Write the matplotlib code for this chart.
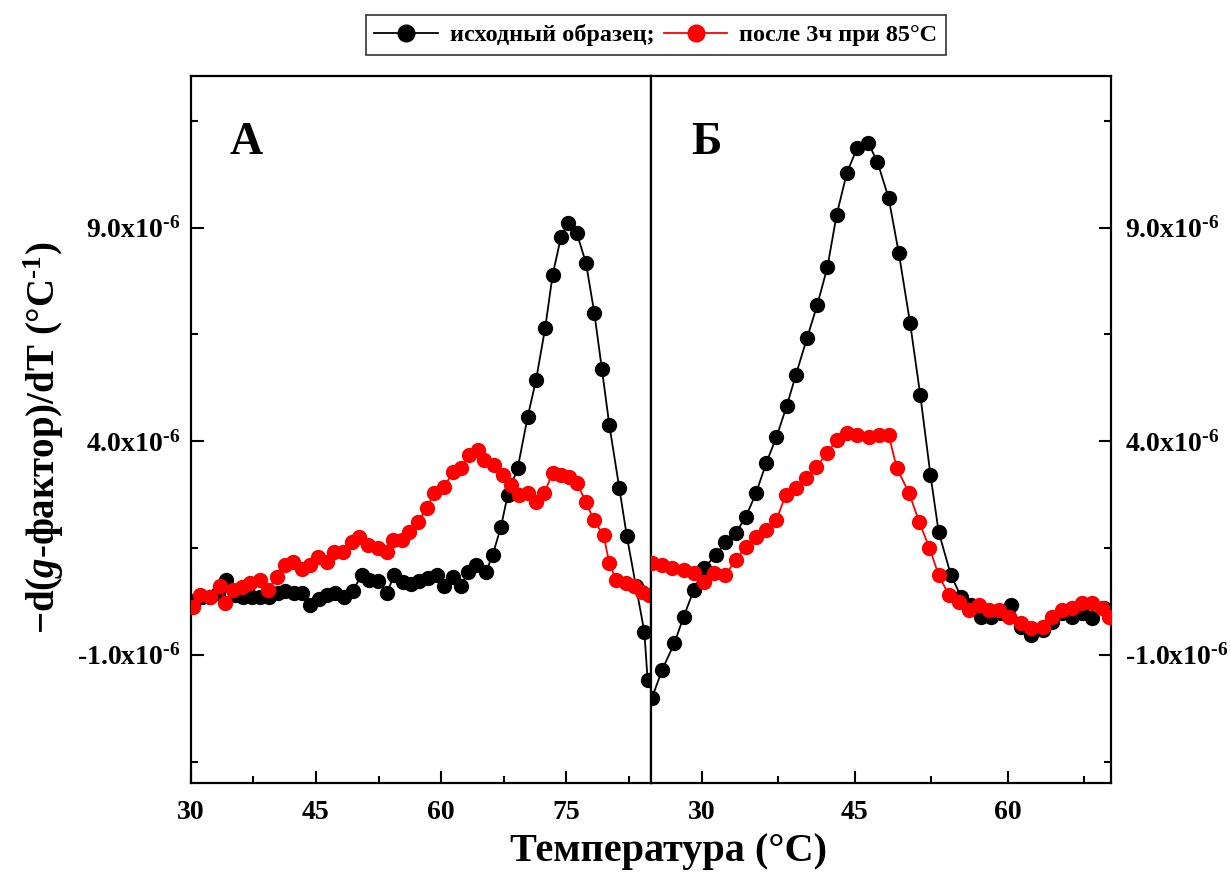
import numpy as np
import matplotlib
matplotlib.use("Agg")
import matplotlib.pyplot as plt
from matplotlib.ticker import MultipleLocator, FixedLocator

plt.rcParams['font.family'] = ['Liberation Serif', 'DejaVu Serif']
plt.rcParams['font.weight'] = 'bold'
plt.rcParams['mathtext.fontset'] = 'custom'
plt.rcParams['mathtext.rm'] = 'Liberation Serif:bold'
plt.rcParams['mathtext.bf'] = 'Liberation Serif:bold'
plt.rcParams['mathtext.it'] = 'Liberation Serif:italic:bold'

# values in units of 1e-6 (°C^-1)
# panel A
xA_black = [30.3, 31.3, 32.3, 33.3, 34.2, 35.3, 36.3, 37.3, 38.3, 39.3,
            40.4, 41.3, 42.3, 43.3, 44.3, 45.3, 46.3, 47.3, 48.3, 49.4,
            50.5, 51.4, 52.4, 53.5, 54.4, 55.4, 56.4, 57.4, 58.4, 59.5,
            60.4, 61.4, 62.4, 63.2, 64.2, 65.4, 66.2, 67.2, 68.0, 69.2,
            70.4, 71.4, 72.5, 73.4, 74.4, 75.2, 76.3, 77.4, 78.4, 79.3,
            80.2, 81.4, 82.3, 83.4, 84.4, 84.8]
yA_black = [0.25, 0.35, 0.35, 0.45, 0.75, 0.40, 0.35, 0.35, 0.36, 0.36,
            0.45, 0.50, 0.45, 0.45, 0.17, 0.30, 0.40, 0.45, 0.35, 0.50,
            0.87, 0.75, 0.72, 0.45, 0.87, 0.70, 0.65, 0.72, 0.80, 0.87,
            0.60, 0.83, 0.60, 0.94, 1.10, 0.94, 1.34, 2.00, 2.74, 3.37,
            4.57, 5.43, 6.65, 7.90, 8.78, 9.10, 8.87, 8.17, 7.00, 5.70,
            4.38, 2.90, 1.78, 0.60, -0.46, -1.60]

xA_red = [30.2, 31.1, 32.3, 33.5, 34.1, 35.0, 36.1, 37.1, 38.3, 39.2,
          40.3, 41.3, 42.2, 43.3, 44.3, 45.2, 46.3, 47.2, 48.2, 49.3,
          50.2, 51.2, 52.4, 53.5, 54.2, 55.3, 56.2, 57.2, 58.3, 59.2,
          60.4, 61.4, 62.4, 63.4, 64.4, 65.2, 66.4, 67.4, 68.4, 69.4,
          70.4, 71.4, 72.4, 73.4, 74.4, 75.4, 76.3, 77.4, 78.3, 79.5,
          80.2, 81.0, 82.2, 83.2, 84.1, 85.0]
yA_red = [0.12, 0.40, 0.36, 0.60, 0.22, 0.52, 0.58, 0.68, 0.76, 0.52,
          0.83, 1.10, 1.18, 1.00, 1.10, 1.30, 1.18, 1.40, 1.40, 1.64,
          1.76, 1.57, 1.50, 1.40, 1.69, 1.69, 1.88, 2.10, 2.44, 2.80,
          2.93, 3.28, 3.37, 3.68, 3.80, 3.56, 3.45, 3.20, 2.98, 2.74,
          2.79, 2.58, 2.79, 3.26, 3.21, 3.16, 3.02, 2.58, 2.16, 1.80,
          1.15, 0.75, 0.68, 0.60, 0.47, 0.40]

# panel Б
xB_black = [25.1, 26.1, 27.3, 28.2, 29.2, 30.2, 31.4, 32.3, 33.3, 34.3,
            35.3, 36.3, 37.3, 38.3, 39.2, 40.3, 41.3, 42.3, 43.2, 44.2,
            45.2, 46.3, 47.2, 48.3, 49.3, 50.4, 51.4, 52.4, 53.2, 54.4,
            55.4, 56.4, 57.4, 58.3, 59.3, 60.3, 61.3, 62.3, 63.4, 64.3,
            65.3, 66.3, 67.3, 68.2, 69.4]
yB_black = [-2.00, -1.35, -0.72, -0.11, 0.52, 1.04, 1.34, 1.64, 1.85, 2.23,
            2.79, 3.49, 4.10, 4.82, 5.55, 6.42, 7.19, 8.08, 9.30, 10.28,
            10.86, 10.98, 10.54, 9.69, 8.40, 6.77, 5.08, 3.21, 1.88, 0.87,
            0.36, 0.17, -0.11, -0.11, -0.02, 0.17, -0.34, -0.53, -0.42, -0.23,
            -0.02, -0.11, -0.02, -0.13, 0.10]

xB_red = [25.1, 26.1, 27.1, 28.2, 29.2, 30.2, 31.2, 32.3, 33.3, 34.3,
          35.3, 36.3, 37.3, 38.2, 39.2, 40.2, 41.2, 42.3, 43.2, 44.2,
          45.2, 46.4, 47.4, 48.3, 49.1, 50.3, 51.3, 52.3, 53.2, 54.2,
          55.2, 56.2, 57.2, 58.1, 59.1, 60.1, 61.3, 62.3, 63.4, 64.3,
          65.3, 66.3, 67.3, 68.2, 69.2, 69.9]
yB_red = [1.15, 1.10, 1.03, 0.99, 0.92, 0.71, 0.92, 0.87, 1.22, 1.53,
          1.76, 1.92, 2.16, 2.74, 2.90, 3.14, 3.40, 3.73, 4.03, 4.19,
          4.15, 4.10, 4.15, 4.15, 3.37, 2.79, 2.11, 1.50, 0.87, 0.40,
          0.24, 0.05, 0.17, 0.05, 0.05, -0.11, -0.25, -0.37, -0.34, -0.11,
          0.05, 0.10, 0.22, 0.22, 0.10, -0.11]

labels = ['исходный образец;', 'после 3ч при 85°C']
yticks = [-1.0e-6, 4.0e-6, 9.0e-6]
ytick_labels = [r'$\mathregular{\text{-}1.0x10^{\text{-}6}}$',
                r'$\mathregular{4.0x10^{\text{-}6}}$',
                r'$\mathregular{9.0x10^{\text{-}6}}$']

W, H = 1231, 874
fig = plt.figure(figsize=(W / 100, H / 100), dpi=100)
bot = (H - 783) / H
hgt = (783 - 76) / H
axA = fig.add_axes([191 / W, bot, 460 / W, hgt])
axB = fig.add_axes([651 / W, bot, 460 / W, hgt])

mk = dict(marker='o', markersize=10, linewidth=1.3)
for ax, xb, yb, xr, yr in [(axA, xA_black, yA_black, xA_red, yA_red),
                           (axB, xB_black, yB_black, xB_red, yB_red)]:
    ax.plot(xb, np.array(yb) * 1e-6, color='black', label=labels[0], zorder=3, **mk)
    ax.plot(xr, np.array(yr) * 1e-6, color='red', label=labels[1], zorder=4, **mk)
    ax.set_ylim(-4.0e-6, 12.55e-6)
    for s in ax.spines.values():
        s.set_linewidth(1.6)
    ax.xaxis.set_major_locator(MultipleLocator(15))
    ax.xaxis.set_minor_locator(MultipleLocator(7.5))
    ax.yaxis.set_major_locator(FixedLocator(yticks))
    ax.yaxis.set_minor_locator(FixedLocator([-3.5e-6, 1.5e-6, 6.5e-6, 11.5e-6]))
    ax.tick_params(which='both', direction='in', width=1.5, labelsize=20)
    ax.tick_params(which='major', length=9)
    ax.tick_params(which='minor', length=5)
    ax.tick_params(axis='x', top=False, pad=12)

axA.set_xlim(30, 85.2)
axB.set_xlim(25, 70.1)

axA.set_yticklabels(ytick_labels)
axA.tick_params(axis='y', left=True, right=False, pad=8)
axB.yaxis.tick_right()
axB.set_yticklabels(ytick_labels)
axB.tick_params(axis='y', left=False, right=True, pad=10)
axB.tick_params(axis='y', which='minor', left=False, right=True)

axA.text(0.12, 0.905, 'А', transform=axA.transAxes, fontsize=33,
         fontweight='bold', ha='center', va='center')
axB.text(0.12, 0.905, 'Б', transform=axB.transAxes, fontsize=33,
         fontweight='bold', ha='center', va='center')

fig.text(668 / W, 1 - 852 / H, 'Температура (°C)', fontsize=29,
         fontweight='bold', ha='center', va='center')
fig.text(44 / W, 1 - 438 / H, r'$\mathregular{-}$d($\mathit{g}$-фактор)/dT (°C$^{\mathregular{\text{-}1}}$)',
         fontsize=28, fontweight='bold', ha='center', va='center', rotation=90)

handles, _ = axA.get_legend_handles_labels()
leg = fig.legend(handles, labels, loc='center', bbox_to_anchor=(656 / W, 1 - 35 / H),
                 ncol=2, frameon=True, fancybox=False, edgecolor='black',
                 fontsize=17.5, handlelength=2.6, columnspacing=0.4,
                 handletextpad=0.5, borderpad=0.35, borderaxespad=0,
                 markerscale=1.2)
leg.get_frame().set_linewidth(1.2)

fig.savefig('out.png', dpi=100)
